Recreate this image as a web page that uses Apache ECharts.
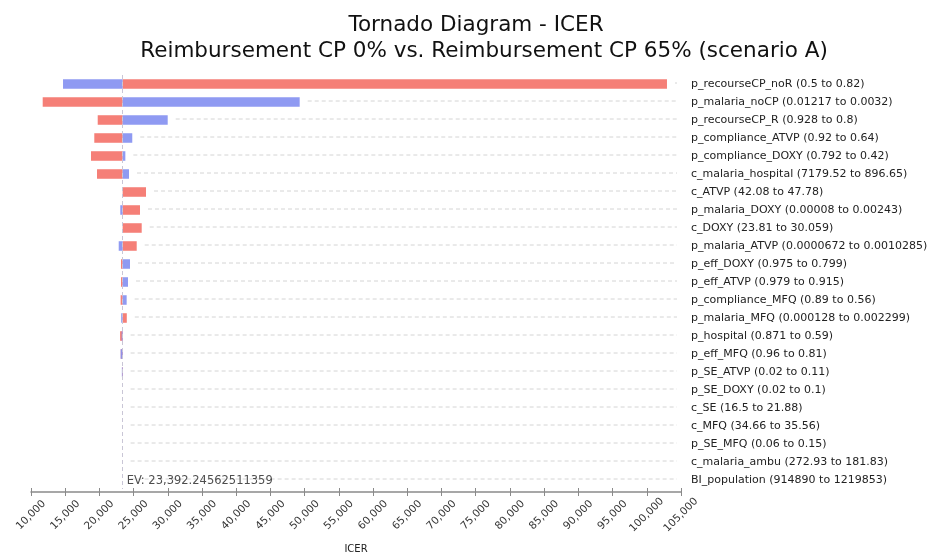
<!DOCTYPE html>
<html>
<head>
<meta charset="utf-8">
<script src="https://cdn.jsdelivr.net/npm/echarts@6/dist/echarts.min.js"></script>
<style>
html,body{margin:0;padding:0;background:#fff;}
#chart{width:931px;height:553px;}
</style>
</head>
<body>
<div id="chart"></div>
<script>
var titleText = 'Tornado Diagram - ICER';
var subtitleText = 'Reimbursement CP 0% vs. Reimbursement CP 65% (scenario A)';
var axisName = 'ICER';
var evValue = 23392.24562511359;
var evLabel = 'EV: 23,392.24562511359';

var categories = [
  'p_recourseCP_noR (0.5 to 0.82)',
  'p_malaria_noCP (0.01217 to 0.0032)',
  'p_recourseCP_R (0.928 to 0.8)',
  'p_compliance_ATVP (0.92 to 0.64)',
  'p_compliance_DOXY (0.792 to 0.42)',
  'c_malaria_hospital (7179.52 to 896.65)',
  'c_ATVP (42.08 to 47.78)',
  'p_malaria_DOXY (0.00008 to 0.00243)',
  'c_DOXY (23.81 to 30.059)',
  'p_malaria_ATVP (0.0000672 to 0.0010285)',
  'p_eff_DOXY (0.975 to 0.799)',
  'p_eff_ATVP (0.979 to 0.915)',
  'p_compliance_MFQ (0.89 to 0.56)',
  'p_malaria_MFQ (0.000128 to 0.002299)',
  'p_hospital (0.871 to 0.59)',
  'p_eff_MFQ (0.96 to 0.81)',
  'p_SE_ATVP (0.02 to 0.11)',
  'p_SE_DOXY (0.02 to 0.1)',
  'c_SE (16.5 to 21.88)',
  'c_MFQ (34.66 to 35.56)',
  'p_SE_MFQ (0.06 to 0.15)',
  'c_malaria_ambu (272.93 to 181.83)',
  'BI_population (914890 to 1219853)'
];

// ICER reached at each end of the range (red bar / blue bar)
var redValues = [102950, 11710, 19750, 19250, 18770, 19650, 26810, 25930, 26180, 25450,
  23150, 23150, 23100, 24000, 23020, 23120, 23300, 23392, 23392, 23392, 23392, 23392, 23392];
var blueValues = [14680, 49270, 29980, 24800, 23790, 24320, 23330, 23050, 23350, 22820,
  24470, 24180, 23980, 23180, 23250, 23100, 23280, 23392, 23392, 23392, 23392, 23392, 23392];

var xTicksMin = 10000, xTicksMax = 105000, xTickStep = 5000;

var RED = '#F57F77';
var BLUE = '#8591F1';
var FONT = 'DejaVu Sans';

function barData(vals) {
  return vals.map(function (v, i) { return [i, v]; });
}

function barRender(color, opacity) {
  return function (params, api) {
    var idx = api.value(0);
    var v = api.value(1);
    var p0 = api.coord([evValue, idx]);
    var p1 = api.coord([v, idx]);
    var h = api.size([0, 1])[1] * 0.53;
    var x = Math.min(p0[0], p1[0]);
    var w = Math.abs(p1[0] - p0[0]);
    if (w < 0.5) return null;
    return {
      type: 'rect',
      shape: { x: x, y: p0[1] - h / 2, width: w, height: h },
      style: { fill: color, opacity: opacity }
    };
  };
}

var leaderData = categories.map(function (c, i) {
  return [i, Math.max(redValues[i], blueValues[i], evValue)];
});

var option = {
  animation: false,
  backgroundColor: '#ffffff',
  title: [{
    text: titleText,
    left: 471, top: 9, textAlign: 'center',
    textStyle: { fontFamily: FONT, fontSize: 21.5, fontWeight: 'normal', color: '#111' }
  }, {
    text: subtitleText,
    left: 479, top: 35, textAlign: 'center',
    textStyle: { fontFamily: FONT, fontSize: 21.5, fontWeight: 'normal', color: '#111' }
  }],
  grid: { left: 31, width: 650, top: 75, height: 414, containLabel: false, outerBoundsMode: 'none' },
  xAxis: [{
    type: 'value',
    min: xTicksMin, max: xTicksMax, interval: xTickStep,
    offset: 3,
    name: axisName, nameLocation: 'middle', nameGap: 52,
    nameTextStyle: { fontFamily: FONT, fontSize: 10, color: '#222' },
    axisLine: { show: true, lineStyle: { color: '#8a8a8a', width: 1.5 } },
    axisTick: { show: true, length: 4, lineStyle: { color: '#8a8a8a' } },
    axisLabel: {
      rotate: 45, fontFamily: FONT, fontSize: 10.5, color: '#333', margin: 23,
      align: 'center', verticalAlign: 'middle',
      formatter: function (v) { return v.toLocaleString('en-US'); }
    },
    splitLine: { show: false }
  }, {
    type: 'value',
    min: xTicksMin, max: xTicksMax, interval: xTickStep,
    position: 'bottom',
    offset: 3,
    axisLine: { show: false },
    axisTick: { show: true, inside: true, length: 4, lineStyle: { color: '#8a8a8a' } },
    axisLabel: { show: false },
    splitLine: { show: false }
  }],
  yAxis: {
    type: 'category',
    data: categories,
    inverse: true,
    position: 'right',
    axisLine: { show: false },
    axisTick: { show: false },
    axisLabel: { fontFamily: FONT, fontSize: 11, color: '#222', margin: 10 },
    splitLine: { show: false }
  },
  series: [{
    type: 'custom',
    name: 'leaders',
    silent: true,
    renderItem: function (params, api) {
      var idx = api.value(0);
      var p = api.coord([api.value(1), idx]);
      var xe = params.coordSys.x + params.coordSys.width - 4;
      var xs = p[0] + 8;
      if (xs >= xe) return null;
      return {
        type: 'line',
        shape: { x1: xs, y1: p[1] - 1, x2: xe, y2: p[1] - 1 },
        style: { stroke: '#d4d4d4', lineWidth: 1, lineDash: [4, 3] }
      };
    },
    data: leaderData,
    encode: { x: 1, y: 0 },
    z: 1
  }, {
    type: 'custom',
    name: 'red',
    renderItem: barRender(RED, 1),
    data: barData(redValues),
    encode: { x: 1, y: 0 },
    z: 3
  }, {
    type: 'custom',
    name: 'blue',
    renderItem: barRender(BLUE, 0.92),
    data: barData(blueValues),
    encode: { x: 1, y: 0 },
    z: 4
  }, {
    type: 'scatter',
    name: 'ev',
    symbolSize: 0,
    silent: true,
    data: [[evValue, categories.length - 1]],
    label: {
      show: true, position: 'right', distance: 4, offset: [0, 1],
      formatter: evLabel,
      fontFamily: FONT, fontSize: 11.5, color: '#222'
    },
    markLine: {
      silent: true, symbol: 'none',
      lineStyle: { color: '#c9c6d6', type: [4, 3], width: 1 },
      label: { show: false },
      data: [{ xAxis: evValue }]
    },
    z: 5
  }]
};

var chart = echarts.init(document.getElementById('chart'), null, { renderer: 'canvas' });
chart.setOption(option);
</script>
</body>
</html>
